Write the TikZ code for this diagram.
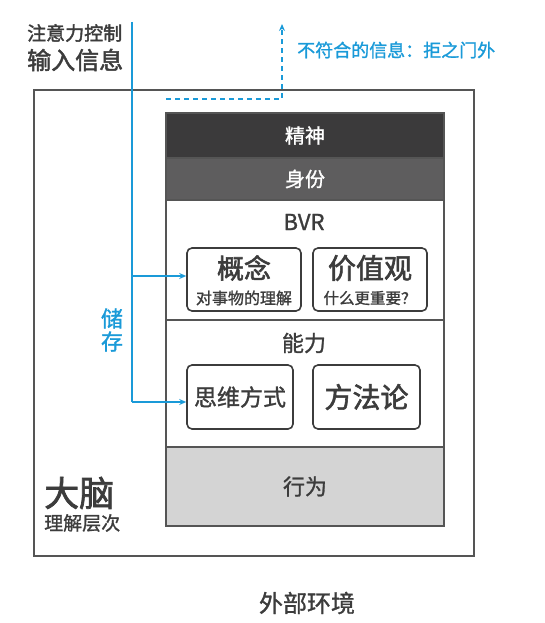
\documentclass[tikz,border=0pt]{standalone}
\usepackage{fontspec}
\setmainfont{Noto Sans CJK SC}
\newfontfamily\cjk{Noto Sans CJK SC}
\newfontfamily\cjkm[FakeBold=1.2]{Noto Sans CJK SC}
\newfontfamily\cjkb[FakeBold=2]{Noto Sans CJK SC}
\usetikzlibrary{arrows.meta}
\definecolor{txtgray}{HTML}{3C3C3C}
\definecolor{linegray}{HTML}{555555}
\definecolor{darkband}{HTML}{3B3A3B}
\definecolor{midband}{HTML}{5E5D5E}
\definecolor{lightband}{HTML}{D4D4D4}
\definecolor{skyblue}{HTML}{1A9AD8}
\tikzset{
  band/.style={draw=linegray, line width=1.5pt, minimum width=278pt, inner sep=0pt, font=\cjkm, text=txtgray},
  rbox/.style={draw=txtgray, line width=1.6pt, rounded corners=5pt, inner sep=0pt},
  bluearrow/.style={draw=skyblue, line width=1.8pt, -{Stealth[length=7pt,width=6pt]}},
}
\begin{document}
\begin{tikzpicture}[x=1pt,y=-1pt]
\useasboundingbox (0,0) rectangle (545,623);
% outer brain box
\draw[draw=linegray, line width=2pt] (34,90) rectangle (474,556);
% bands
\node[band, fill=darkband, minimum height=45pt, text=white, font=\cjkm\fontsize{20}{22}\selectfont] (jingshen) at (305,135.5) {精神};
\node[band, fill=midband, minimum height=42pt, text=white, font=\cjkm\fontsize{20}{22}\selectfont] (shenfen) at (305,179) {身份};
\node[band, fill=white, minimum height=120pt] (bvrsec) at (305,260) {};
\node[band, fill=white, minimum height=127pt] (nengsec) at (305,383.5) {};
\node[band, fill=lightband, minimum height=79pt, font=\cjkm\fontsize{22}{24}\selectfont] (xingwei) at (305,486.5) {行为};
% section titles
\node[font=\cjkm\fontsize{22}{24}\selectfont, text=txtgray] (bvr) at (304,222) {BVR};
\node[font=\cjkm\fontsize{22}{24}\selectfont, text=txtgray] (nengli) at (304,343) {能力};
% inner rounded boxes
\node[rbox, minimum width=114pt, minimum height=63pt] (gainian) at (244,279.5) {};
\node[font=\cjkb\fontsize{27}{29}\selectfont, text=txtgray] (gainiant) at (244,268) {概念};
\node[font=\cjkm\fontsize{16}{18}\selectfont, text=txtgray] (gainians) at (244,298) {对事物的理解};
\node[rbox, minimum width=114pt, minimum height=63pt] (jiazhi) at (370,279.5) {};
\node[font=\cjkb\fontsize{28}{30}\selectfont, text=txtgray] (jiazhit) at (370,268) {价值观};
\node[font=\cjkm\fontsize{15.5}{18}\selectfont, text=txtgray] (jiazhis) at (370,298) {什么更重要？};
\node[rbox, minimum width=106pt, minimum height=64pt, font=\cjkm\fontsize{23}{25}\selectfont, text=txtgray] (siwei) at (240,397) {思维方式};
\node[rbox, minimum width=107pt, minimum height=64pt, font=\cjkb\fontsize{28}{30}\selectfont, text=txtgray] (fangfa) at (366.5,397) {方法论};
% left labels
\node[font=\cjkb\fontsize{19}{21}\selectfont, text=txtgray, anchor=west, inner sep=0pt] (zhuyi) at (27,33) {注意力控制};
\node[font=\cjkb\fontsize{24}{26}\selectfont, text=txtgray, anchor=west, inner sep=0pt] (shuru) at (27,60) {输入信息};
\node[font=\cjkb\fontsize{35}{37}\selectfont, text=txtgray, anchor=west, inner sep=0pt] (danao) at (44,493) {大脑};
\node[font=\cjkm\fontsize{19}{21}\selectfont, text=txtgray, anchor=west, inner sep=0pt] (lijie) at (44,523) {理解层次};
\node[font=\cjkm\fontsize{24}{26}\selectfont, text=txtgray] (waibu) at (307,603) {外部环境};
\node[font=\cjkm\fontsize{22}{26}\selectfont, text=skyblue, align=center, inner sep=0pt] (chucun) at (112,330) {储\\[-3pt]存};
\node[font=\cjkm\fontsize{18}{20}\selectfont, text=skyblue, anchor=west, inner sep=0pt] (jujue) at (297,50) {不符合的信息：拒之门外};
% blue connectors
\coordinate (topin) at (132,22);
\coordinate (branch) at (132,276);
\coordinate (bottomturn) at (132,402);
\draw[draw=skyblue, line width=1.8pt] (topin) -- (bottomturn);
\draw[bluearrow] (branch) -- (gainian.west |- branch);
\draw[bluearrow] (bottomturn) -- (siwei.west |- bottomturn);
% dashed rejection path
\coordinate (dstart) at (166,99);
\coordinate (dcorner) at (282,99);
\coordinate (dend) at (282,24);
\draw[draw=skyblue, line width=1.6pt, dash pattern=on 5pt off 4pt, -{Stealth[length=7pt,width=6pt]}] (dstart) -- (dcorner) -- (dend);
\end{tikzpicture}
\end{document}
